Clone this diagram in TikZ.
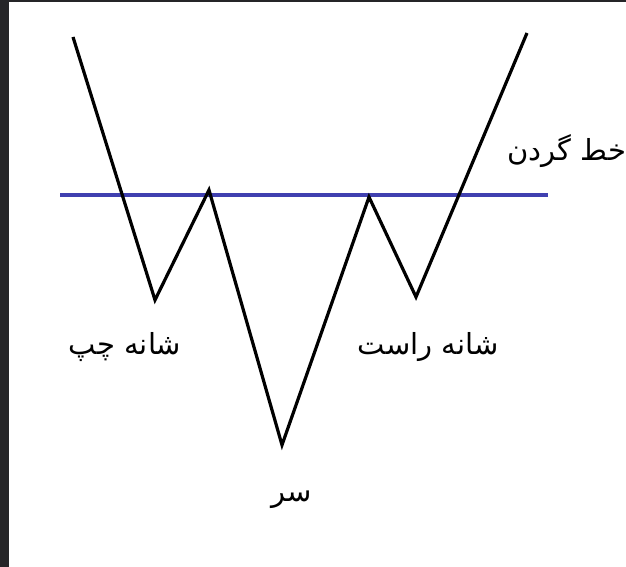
\documentclass[tikz,border=0pt]{standalone}
\usepackage{fontspec}
\newfontfamily\arabicfont[Script=Arabic]{DejaVu Sans}
\TeXXeTstate=1
\usetikzlibrary{positioning}
\definecolor{frame}{RGB}{37,37,40}
\definecolor{neck}{RGB}{64,64,176}

\begin{document}
\begin{tikzpicture}[x=1pt, y=-1pt,
  price/.style={draw=black, line width=3.2pt, line join=miter},
  neckline/.style={draw=neck, line width=4.5pt},
  lbl/.style={font=\arabicfont\fontsize{29}{34}\selectfont, inner sep=0pt}
]
\useasboundingbox (0,0) rectangle (626,567);
\fill[frame] (0,0) rectangle (9,567);
\fill[frame] (0,0) rectangle (626,2.5);

\coordinate (start) at (73,37);
\coordinate (lsh) at (155,300);
\coordinate (lpk) at (209,190);
\coordinate (head) at (282,445);
\coordinate (rpk) at (369,197);
\coordinate (rsh) at (416,297);
\coordinate (stop) at (527,33);

\coordinate (nl) at (60,195);
\coordinate (nr) at (548,195);

\draw[neckline] (nl) -- (nr);
\draw[price] (start) -- (lsh) -- (lpk) -- (head) -- (rpk) -- (rsh) -- (stop);

\node[lbl] (necktxt) at (567,151) {\beginR خط گردن\endR};
\node[lbl] (lefttxt) at (125,347) {\beginR شانه چپ\endR};
\node[lbl] (righttxt) at (428,347) {\beginR شانه راست\endR};
\node[lbl] (headtxt) at (292,500) {\beginR سر\endR};
\end{tikzpicture}
\end{document}
